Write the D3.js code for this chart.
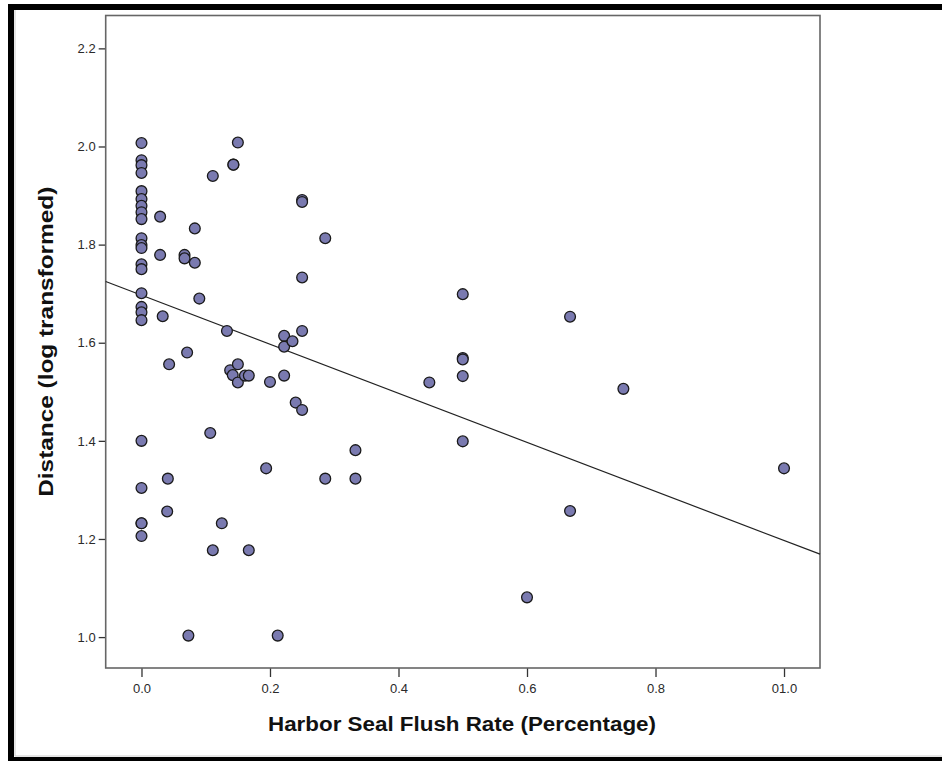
<!DOCTYPE html>
<html>
<head>
<meta charset="utf-8">
<script src="https://cdn.jsdelivr.net/npm/d3@7"></script>
<style>
  body { margin: 0; background: #fff; }
  svg { display: block; }
</style>
</head>
<body>
<div id="chart"></div>
<script>
// flush rate (x) and log distance (y)
var flushRate = [
  0, 0, 0, 0, 0, 0, 0, 0, 0, 0, 0, 0, 0, 0, 0, 0, 0, 0, 0, 0, 0, 0, 0,
  0.029, 0.029, 0.033, 0.040, 0.041, 0.043, 0.067, 0.067, 0.071, 0.073,
  0.083, 0.083, 0.090, 0.107, 0.111, 0.111, 0.125, 0.133, 0.138, 0.142,
  0.143, 0.143, 0.150, 0.150, 0.150, 0.161, 0.167, 0.167, 0.194, 0.200,
  0.212, 0.222, 0.222, 0.222, 0.235, 0.240, 0.250, 0.250, 0.250, 0.250,
  0.250, 0.286, 0.286, 0.333, 0.333, 0.448, 0.5, 0.5, 0.5, 0.5, 0.5,
  0.6, 0.667, 0.667, 0.75, 1.0
];
var distance = [
  2.007, 1.972, 1.962, 1.946, 1.909, 1.893, 1.879, 1.866, 1.852, 1.813, 1.799, 1.793,
  1.760, 1.750, 1.701, 1.673, 1.662, 1.646, 1.400, 1.304, 1.232, 1.232, 1.206,
  1.857, 1.779, 1.654, 1.256, 1.323, 1.556, 1.779, 1.772, 1.580, 1.003,
  1.833, 1.763, 1.690, 1.416, 1.940, 1.177, 1.232, 1.624, 1.544, 1.534,
  1.963, 1.963, 2.008, 1.556, 1.519, 1.533, 1.533, 1.177, 1.344, 1.520,
  1.003, 1.614, 1.592, 1.533, 1.603, 1.478, 1.891, 1.887, 1.733, 1.624,
  1.463, 1.813, 1.323, 1.381, 1.323, 1.519, 1.699, 1.569, 1.566, 1.532, 1.399,
  1.081, 1.653, 1.257, 1.506, 1.344
];

// fit line (intercept, slope) as drawn in the picture
var fitIntercept = 1.697;
var fitSlope = -0.50;

var xTicks = [0, 0.2, 0.4, 0.6, 0.8, 1.0];
var xTickLabels = ["0.0", "0.2", "0.4", "0.6", "0.8", "01.0"];
var yTicks = [1.0, 1.2, 1.4, 1.6, 1.8, 2.0, 2.2];

var points = flushRate.map(function(d, i) { return { x: d, y: distance[i] }; });

var width = 942, height = 761;
var plotLeft = 105.7, plotRight = 820, plotTop = 15.5, plotBottom = 668;
var font = "'Liberation Sans', Arial, sans-serif";

var svg = d3.select("#chart")
  .append("svg")
  .attr("width", width)
  .attr("height", height);

// black frame around the picture (no right edge)
svg.append("path")
  .attr("d", "M942,7 L11,7 L11,760 L942,760")
  .style("fill", "none")
  .style("stroke", "#000")
  .style("stroke-width", 6);
svg.append("path")
  .attr("d", "M15,10 L15,756 L942,756")
  .style("fill", "none")
  .style("stroke", "#ccc")
  .style("stroke-width", 1);

var x = d3.scaleLinear().domain([-0.0557, 1.056]).range([plotLeft, plotRight]);
var y = d3.scaleLinear().domain([0.937, 2.267]).range([plotBottom, plotTop]);

// axes
var yAxis = svg.append("g")
  .attr("transform", "translate(" + plotLeft + ",0)")
  .call(d3.axisLeft(y).tickValues(yTicks).tickSize(7).tickPadding(3).tickFormat(d3.format(".1f")));
var xAxis = svg.append("g")
  .attr("transform", "translate(0," + plotBottom + ")")
  .call(d3.axisBottom(x).tickValues(xTicks).tickSize(9).tickPadding(7)
    .tickFormat(function(d, i) { return xTickLabels[i]; }));

[xAxis, yAxis].forEach(function(a) {
  a.select(".domain").remove();
  a.selectAll("line").style("stroke", "#333").style("stroke-width", 1.3);
  a.selectAll("text")
    .style("font-family", font)
    .style("font-size", "13px")
    .style("fill", "#2a2a2a");
});

// plot box
svg.append("rect")
  .attr("x", plotLeft)
  .attr("y", plotTop)
  .attr("width", plotRight - plotLeft)
  .attr("height", plotBottom - plotTop)
  .style("fill", "none")
  .style("stroke", "#666")
  .style("stroke-width", 1.6);

// regression line across the plot
var xd = x.domain();
svg.append("line")
  .attr("x1", x(xd[0]))
  .attr("y1", y(fitIntercept + fitSlope * xd[0]))
  .attr("x2", x(xd[1]))
  .attr("y2", y(fitIntercept + fitSlope * xd[1]))
  .style("stroke", "#222")
  .style("stroke-width", 1.2);

svg.selectAll(".dot")
  .data(points)
  .enter().append("circle")
  .attr("class", "dot")
  .attr("cx", function(d) { return x(d.x); })
  .attr("cy", function(d) { return y(d.y); })
  .attr("r", 5.4)
  .style("fill", "#7a7ab0")
  .style("stroke", "#1a1a1a")
  .style("stroke-width", 1.3);

// axis titles
svg.append("text")
  .attr("x", 462)
  .attr("y", 731)
  .attr("text-anchor", "middle")
  .attr("textLength", 388)
  .attr("lengthAdjust", "spacingAndGlyphs")
  .style("font-family", font)
  .style("font-weight", "bold")
  .style("font-size", "20px")
  .style("fill", "#111")
  .text("Harbor Seal Flush Rate (Percentage)");

svg.append("text")
  .attr("transform", "translate(53," + ((plotTop + plotBottom) / 2) + ") rotate(-90)")
  .attr("text-anchor", "middle")
  .attr("textLength", 310)
  .attr("lengthAdjust", "spacingAndGlyphs")
  .style("font-family", font)
  .style("font-weight", "bold")
  .style("font-size", "20px")
  .style("fill", "#111")
  .text("Distance (log transformed)");
</script>
</body>
</html>
